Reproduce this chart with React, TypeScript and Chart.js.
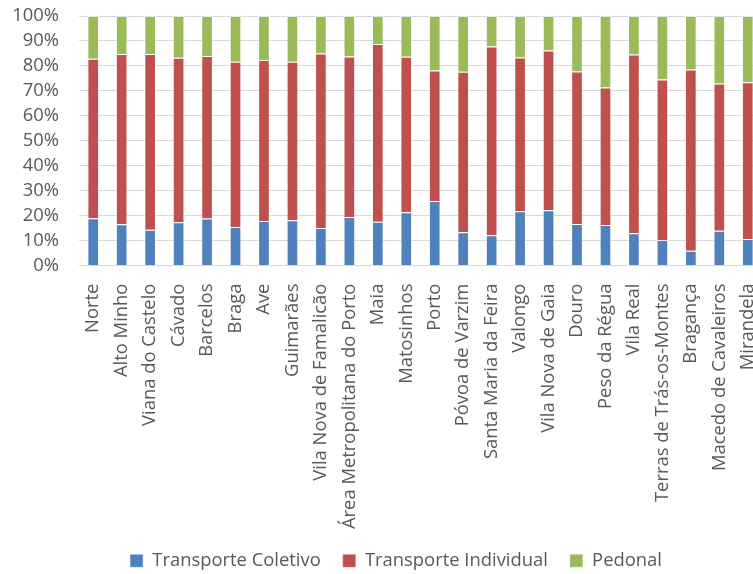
import { useEffect, useRef } from 'react';
import { Chart, registerables } from 'chart.js';

Chart.register(...registerables);

const categories = [
  'Norte', 'Alto Minho', 'Viana do Castelo', 'Cávado', 'Barcelos', 'Braga', 'Ave', 'Guimarães',
  'Vila Nova de Famalicão', 'Área Metropolitana do Porto', 'Maia', 'Matosinhos', 'Porto',
  'Póvoa de Varzim', 'Santa Maria da Feira', 'Valongo', 'Vila Nova de Gaia', 'Douro',
  'Peso da Régua', 'Vila Real', 'Terras de Trás-os-Montes', 'Bragança', 'Macedo de Cavaleiros', 'Mirandela',
];

const coletivo = [19.0, 16.6, 14.4, 17.4, 18.9, 15.5, 17.9, 18.2, 15.1, 19.5, 17.6, 21.4, 25.9, 13.4, 12.2, 21.8, 22.2, 16.7, 16.3, 13.0, 10.3, 5.9, 14.0, 10.7];
const individual = [63.9, 68.2, 70.4, 65.9, 65.1, 66.2, 64.5, 63.5, 69.9, 64.3, 71.2, 62.3, 52.3, 64.3, 75.6, 61.6, 64.0, 61.1, 55.1, 71.6, 64.3, 72.7, 59.0, 62.8];
const pedonal = [17.1, 15.2, 15.2, 16.7, 16.0, 18.3, 17.6, 18.3, 15.0, 16.2, 11.2, 16.3, 21.8, 22.3, 12.2, 16.6, 13.8, 22.2, 28.6, 15.4, 25.4, 21.4, 27.0, 26.5];

const seriesNames = ['Transporte Coletivo', 'Transporte Individual', 'Pedonal'];
const seriesColors = ['#4F81BD', '#C0504D', '#9BBB59'];

const FONT = 'Open Sans';
const FSIZE = 18.4;
const TEXT = '#595959';

// centre the legend under the full chart width (as in the original Excel chart)
const legendCentre = {
  id: 'legendCentre',
  afterLayout(chart: any) {
    const l = chart.legend;
    if (!l) return;
    l.left = 30;
    l.right = 762;
    l.width = 732;
  },
};

export default function App() {
  const ref = useRef<HTMLCanvasElement>(null);

  useEffect(() => {
    const series = [coletivo, individual, pedonal];
    const chart = new Chart(ref.current!, {
      type: 'bar',
      data: {
        labels: categories,
        datasets: series.map((d, i) => ({
          label: seriesNames[i],
          data: d,
          backgroundColor: seriesColors[i],
          borderColor: 'rgba(255,255,255,0.35)',
          borderWidth: 1,
          categoryPercentage: 1,
          barPercentage: 0.41,
        })),
      },
      plugins: [legendCentre],
      options: {
        responsive: false,
        animation: false,
        layout: { padding: { top: 16, left: 13, right: 30, bottom: 0 } },
        plugins: {
          legend: {
            position: 'bottom',
            labels: {
              boxWidth: 13,
              boxHeight: 13,
              padding: 22,
              color: TEXT,
              font: { family: FONT, size: FSIZE },
            },
          },
          tooltip: { enabled: false },
        },
        scales: {
          x: {
            stacked: true,
            grid: { display: false },
            border: { color: '#d9d9d9', width: 1 },
            afterFit: (s: any) => {
              s.height = 264;
              s.paddingLeft = 0;
              s.paddingRight = 0;
            },
            ticks: {
              minRotation: 90,
              maxRotation: 90,
              autoSkip: false,
              padding: 10,
              color: TEXT,
              font: { family: FONT, size: FSIZE },
            },
          },
          y: {
            stacked: true,
            min: 0,
            max: 100,
            border: { display: false },
            grid: { color: '#d9d9d9', drawTicks: false },
            afterFit: (s: any) => {
              s.width = 66;
              s.paddingTop = 0;
              s.paddingBottom = 0;
            },
            ticks: {
              stepSize: 10,
              autoSkip: false,
              padding: 20,
              color: TEXT,
              font: { family: FONT, size: FSIZE },
              callback: (v: any) => v + '%',
            },
          },
        },
      },
    });
    return () => chart.destroy();
  }, []);

  return (
    <div style={{ position: 'fixed', left: 0, top: 0, width: 753, height: 574, overflow: 'hidden', background: '#fff' }}>
      <canvas ref={ref} width={792} height={580} style={{ display: 'block' }} />
    </div>
  );
}
